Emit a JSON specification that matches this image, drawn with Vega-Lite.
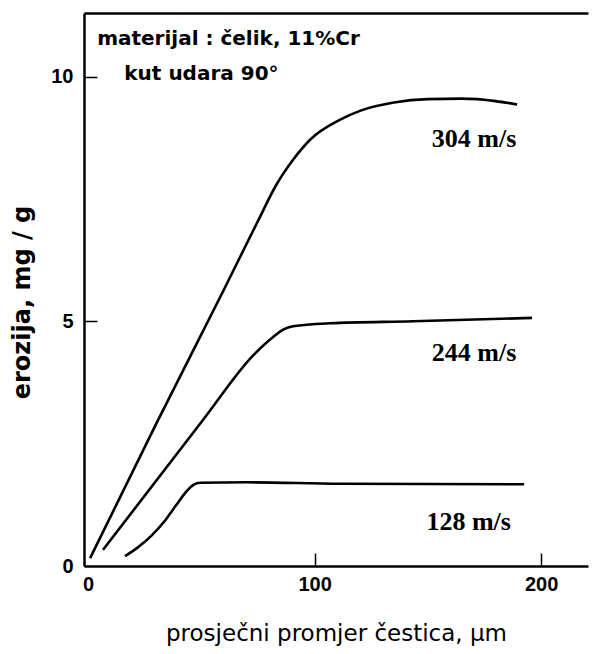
{
  "$schema": "https://vega.github.io/schema/vega-lite/v6.json",
  "width": 504,
  "height": 553,
  "autosize": {"type": "none"},
  "padding": {"left": 84, "top": 13, "right": 5, "bottom": 88},
  "background": "white",
  "config": {"view": {"stroke": null}, "axis": {"grid": false}},
  "datasets": {
    "curves": [
      {"speed": "304", "d": 0.9, "e": 0.16},
      {"speed": "304", "d": 30.0, "e": 2.9},
      {"speed": "304", "d": 60.0, "e": 5.65},
      {"speed": "304", "d": 75.0, "e": 7.05},
      {"speed": "304", "d": 83.0, "e": 7.78},
      {"speed": "304", "d": 90.5, "e": 8.3},
      {"speed": "304", "d": 98.0, "e": 8.71},
      {"speed": "304", "d": 111.3, "e": 9.12},
      {"speed": "304", "d": 120.0, "e": 9.3},
      {"speed": "304", "d": 135.0, "e": 9.47},
      {"speed": "304", "d": 150.0, "e": 9.54},
      {"speed": "304", "d": 165.0, "e": 9.55},
      {"speed": "304", "d": 180.0, "e": 9.5},
      {"speed": "304", "d": 189.4, "e": 9.43},
      {"speed": "244", "d": 6.6, "e": 0.33},
      {"speed": "244", "d": 50.8, "e": 2.99},
      {"speed": "244", "d": 72.8, "e": 4.3},
      {"speed": "244", "d": 81.7, "e": 4.68},
      {"speed": "244", "d": 86.1, "e": 4.83},
      {"speed": "244", "d": 90.5, "e": 4.9},
      {"speed": "244", "d": 106.8, "e": 4.96},
      {"speed": "244", "d": 143.5, "e": 5.0},
      {"speed": "244", "d": 196.0, "e": 5.07},
      {"speed": "128", "d": 16.3, "e": 0.2},
      {"speed": "128", "d": 22.0, "e": 0.38},
      {"speed": "128", "d": 28.0, "e": 0.62},
      {"speed": "128", "d": 34.0, "e": 0.93},
      {"speed": "128", "d": 39.0, "e": 1.25},
      {"speed": "128", "d": 43.0, "e": 1.5},
      {"speed": "128", "d": 46.5, "e": 1.66},
      {"speed": "128", "d": 49.5, "e": 1.7},
      {"speed": "128", "d": 70.0, "e": 1.71},
      {"speed": "128", "d": 111.3, "e": 1.68},
      {"speed": "128", "d": 192.5, "e": 1.67}
    ],
    "labels": [
      {"d": 170.4, "e": 8.73, "t": "304 m/s"},
      {"d": 170.4, "e": 4.36, "t": "244 m/s"},
      {"d": 168.0, "e": 0.9, "t": "128 m/s"}
    ],
    "notes": [
      {"d": 4.0, "e": 10.76, "t": "materijal : čelik, 11%Cr"},
      {"d": 16.0, "e": 10.06, "t": "kut udara 90°"}
    ]
  },
  "layer": [
    {
      "data": {"name": "curves"},
      "mark": {"type": "line", "interpolate": "monotone", "color": "black", "strokeWidth": 2.6},
      "encoding": {
        "x": {
          "field": "d", "type": "quantitative",
          "scale": {"domain": [-1.8, 220.7], "nice": false, "zero": false},
          "axis": {
            "values": [0, 100, 200],
            "title": "prosječni promjer čestica, μm",
            "titleFont": "DejaVu Sans", "titleFontSize": 23, "titleFontWeight": "normal", "titleColor": "black", "titlePadding": 28,
            "labelFont": "Liberation Sans", "labelFontWeight": "bold", "labelFontSize": 20, "labelColor": "black", "labelPadding": 21,
            "labelFlush": false, "labelOverlap": false,
            "tickSize": -13, "tickWidth": 1.5, "tickColor": "black",
            "tickOpacity": {"expr": "datum.value === 0 ? 0 : 1"},
            "domainColor": "black", "domainWidth": 2.5
          }
        },
        "y": {
          "field": "e", "type": "quantitative",
          "scale": {"domain": [0, 11.3], "nice": false, "zero": false},
          "axis": {
            "values": [0, 5, 10],
            "title": "erozija,   mg / g",
            "titleY": 289,
            "titleFont": "DejaVu Sans", "titleFontSize": 24, "titleFontWeight": "bold", "titleColor": "black", "titlePadding": 16,
            "labelFont": "Liberation Sans", "labelFontWeight": "bold", "labelFontSize": 20, "labelColor": "black", "labelPadding": 24,
            "labelFlush": false, "labelOverlap": false,
            "tickSize": -13, "tickWidth": 1.5, "tickColor": "black",
            "tickOpacity": {"expr": "datum.value === 0 ? 0 : 1"},
            "domainColor": "black", "domainWidth": 2.5
          }
        },
        "detail": {"field": "speed", "type": "nominal"}
      }
    },
    {
      "data": {"name": "labels"},
      "mark": {"type": "text", "font": "Liberation Serif", "fontWeight": "bold", "fontSize": 26, "align": "center", "baseline": "middle", "color": "black"},
      "encoding": {
        "x": {"field": "d", "type": "quantitative", "axis": {"orient": "top", "labels": false, "ticks": false, "title": null, "domainColor": "black", "domainWidth": 2.5}},
        "y": {"field": "e", "type": "quantitative", "axis": null},
        "text": {"field": "t"}
      }
    },
    {
      "data": {"name": "notes"},
      "mark": {"type": "text", "font": "DejaVu Sans", "fontWeight": "bold", "fontSize": 20, "align": "left", "baseline": "middle", "color": "black"},
      "encoding": {
        "x": {"field": "d", "type": "quantitative", "axis": null},
        "y": {"field": "e", "type": "quantitative", "axis": null},
        "text": {"field": "t"}
      }
    }
  ],
  "resolve": {"axis": {"x": "independent", "y": "independent"}}
}
